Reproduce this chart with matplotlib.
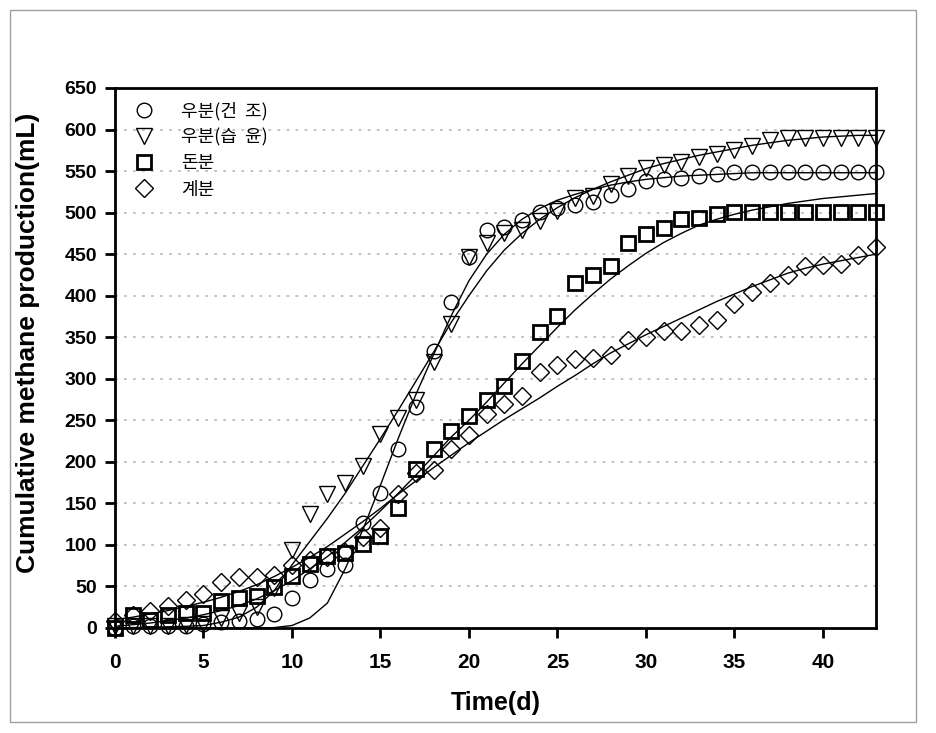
import matplotlib
matplotlib.use("Agg")
import matplotlib.pyplot as plt
from matplotlib.patches import Rectangle
from matplotlib.lines import Line2D

# ---------------- data ----------------
days = list(range(0, 44))

labels = ["우분(건  조)", "우분(습  윤)", "돈분", "계분"]

circle_obs = [0, 2, 2, 3, 3, 5, 7, 8, 11, 17, 36, 58, 71, 76, 126, 163, 215, 266, 333, 392,
              447, 479, 483, 491, 501, 505, 509, 513, 521, 528, 538, 540, 542, 544, 546, 549,
              549, 549, 549, 549, 549, 549, 549, 549]
triangle_obs = [3, 3, 3, 3, 4, 5, 12, 18, 25, 48, 94, 137, 161, 174, 195, 233, 253, 274, 320, 366,
                447, 464, 476, 479, 490, 502, 517, 520, 535, 544, 554, 557, 561, 567, 570, 575,
                580, 587, 590, 590, 590, 590, 590, 590]
square_obs = [0, 16, 10, 16, 18, 18, 32, 36, 38, 49, 62, 77, 87, 90, 101, 111, 145, 191, 216, 237,
              255, 274, 291, 321, 356, 376, 415, 425, 436, 464, 474, 481, 492, 493, 498, 501,
              501, 501, 501, 501, 501, 501, 501, 501]
diamond_obs = [8, 16, 20, 27, 34, 41, 55, 61, 61, 64, 76, 82, 86, 91, 110, 120, 161, 187, 190, 215,
               232, 257, 270, 279, 308, 316, 324, 325, 329, 347, 350, 357, 357, 365, 371, 390,
               404, 415, 425, 436, 437, 438, 449, 459]

# fitted curves
circle_fit = [0, 0, 0, 0, 0, 0, 0, 0, 0, 0.5, 3, 12, 30, 71, 118, 172, 228, 281, 329, 376,
              418, 450, 474, 492, 505, 515, 522, 528, 533, 537, 540, 542, 544, 545, 546, 547,
              548, 548, 548, 548, 548, 548, 548, 548]
triangle_fit = [0, 0.5, 1, 1.5, 2, 3, 7, 13, 25, 45, 76, 104, 132, 162, 195, 228, 262, 297, 332, 368,
                400, 430, 455, 475, 492, 506, 518, 528, 537, 545, 553, 559, 564, 569, 573, 577,
                581, 584, 587, 589, 591, 592, 593, 593]
square_fit = [2, 4, 6, 9, 12, 16, 21, 27, 35, 45, 57, 71, 86, 103, 121, 141, 162, 184, 207, 230,
              250, 272, 295, 318, 340, 362, 383, 402, 420, 436, 451, 464, 475, 485, 492, 498,
              503, 507, 511, 514, 517, 519, 521, 523]
diamond_fit = [10, 13, 17, 21, 26, 31, 37, 44, 52, 62, 73, 85, 98, 113, 128, 144, 161, 177, 193, 208,
               223, 237, 251, 264, 277, 291, 304, 318, 331, 342, 353, 363, 373, 383, 393, 402,
               411, 419, 427, 433, 438, 442, 446, 450]

xticks = [0, 5, 10, 15, 20, 25, 30, 35, 40]
yticks = list(range(0, 651, 50))

# ---------------- figure ----------------
W, H = 936, 733
fig = plt.figure(figsize=(W / 100, H / 100), dpi=100)
ax = fig.add_axes([115 / W, (H - 628) / H, (876 - 115) / W, 540 / H])

for yv in yticks[1:-1]:
    ax.axhline(yv, color="#bdbdbd", lw=1.3, ls=(0, (1.5, 3.5)), zorder=0)

for fit in (circle_fit, triangle_fit, square_fit, diamond_fit):
    ax.plot(days, fit, color="black", lw=1.0, zorder=2)

mk = dict(ls="none", mfc="none", mec="black", clip_on=False, zorder=3)
ax.plot(days, circle_obs, marker="o", ms=10.5, mew=1.0, **mk)
ax.plot(days, triangle_obs, marker="v", ms=11, mew=1.0, **mk)
ax.plot(days, square_obs, marker="s", ms=9.5, mew=2.0, **mk)
ax.plot(days, diamond_obs, marker="D", ms=9, mew=1.0, **mk)

ax.set_xlim(0, 43)
ax.set_ylim(0, 650)
ax.set_xticks(xticks)
ax.set_yticks(yticks)
for s in ax.spines.values():
    s.set_linewidth(2)
ax.tick_params(axis="both", which="major", direction="out", length=7, width=2)
ax.tick_params(axis="y", pad=6)
ax.tick_params(axis="x", pad=11)

xfont = ["Liberation Sans Narrow", "Liberation Sans", "DejaVu Sans"]
for t in ax.get_xticklabels():
    t.set_fontfamily(xfont)
    t.set_fontweight("bold")
    t.set_fontsize(15)
for t in ax.get_yticklabels():
    t.set_fontfamily(["Liberation Sans", "DejaVu Sans"])
    t.set_fontweight("bold")
    t.set_fontsize(14)

ax.set_xlabel("Time(d)", fontfamily=xfont, fontweight="bold", fontsize=18, labelpad=14)
ax.set_ylabel("Cumulative methane production(mL)", fontfamily=["Liberation Sans", "DejaVu Sans"],
              fontweight="bold", fontsize=19)
ax.yaxis.set_label_coords(-0.099, 0.528)

handles = [
    Line2D([], [], marker="o", ls="none", mfc="none", mec="black", ms=10.5, mew=1.0),
    Line2D([], [], marker="v", ls="none", mfc="none", mec="black", ms=11, mew=1.0),
    Line2D([], [], marker="s", ls="none", mfc="none", mec="black", ms=9.5, mew=2.0),
    Line2D([], [], marker="D", ls="none", mfc="none", mec="black", ms=9, mew=1.0),
]
ax.legend(handles, labels, loc="upper left", bbox_to_anchor=(0.028, 0.975), frameon=False,
          borderpad=0, borderaxespad=0, handlelength=0.9, handletextpad=1.6, labelspacing=0.45,
          prop={"family": ["Noto Sans CJK KR", "DejaVu Sans"], "size": 13})

fig.patches.append(Rectangle((10 / W, (H - 722) / H), (916 - 10) / W, (722 - 10) / H,
                             transform=fig.transFigure, fill=False, edgecolor="#a0a0a0", lw=1))

fig.savefig("out.png", dpi=100)
